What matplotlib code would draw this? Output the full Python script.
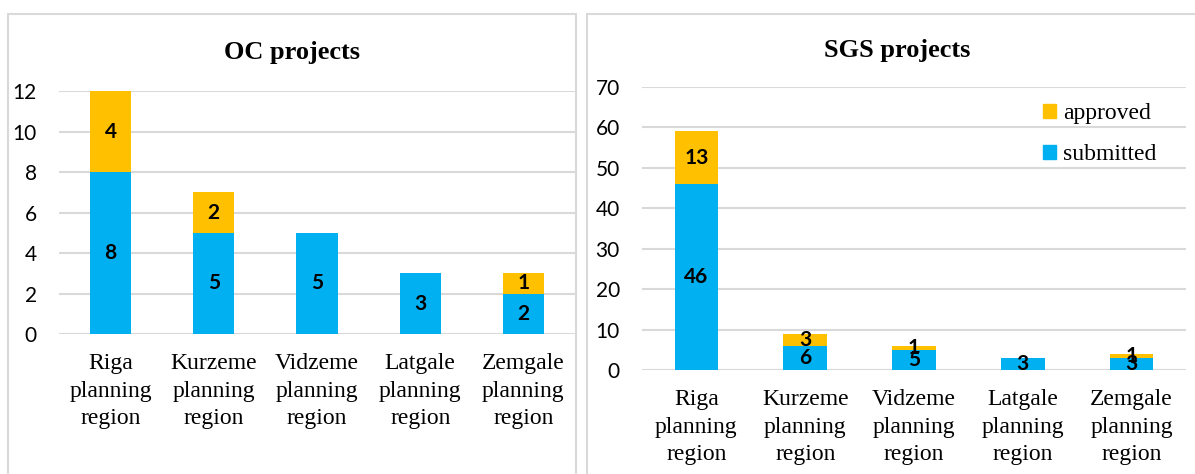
import matplotlib
matplotlib.use("Agg")
import matplotlib.pyplot as plt
from matplotlib.patches import Rectangle, Patch

regions = ["Riga\nplanning\nregion", "Kurzeme\nplanning\nregion",
           "Vidzeme\nplanning\nregion", "Latgale\nplanning\nregion",
           "Zemgale\nplanning\nregion"]

oc_submitted = [8, 5, 5, 3, 2]
oc_approved = [4, 2, 0, 0, 1]
sgs_submitted = [46, 6, 5, 3, 3]
sgs_approved = [13, 3, 1, 0, 1]

BLUE = "#00B0F0"
GOLD = "#FFC000"
GRID = "#D9D9D9"
SERIF = "Liberation Serif"
SANS = "Lato"

W, H = 1195, 474
fig = plt.figure(figsize=(W / 100, H / 100), dpi=100)


def px_box(x0, y_top, x1, y_bottom):
    # pixel box -> figure fraction [left, bottom, width, height]
    return [x0 / W, 1 - y_bottom / H, (x1 - x0) / W, (y_bottom - y_top) / H]


def stacked(ax, submitted, approved, ymax, step):
    x = range(len(regions))
    b1 = ax.bar(x, submitted, width=0.4, color=BLUE, zorder=3)
    b2 = ax.bar(x, approved, width=0.4, bottom=submitted, color=GOLD, zorder=3)
    for bars, vals, base in ((b1, submitted, [0] * len(submitted)),
                             (b2, approved, submitted)):
        for rect, v, b0 in zip(bars, vals, base):
            if v == 0:
                continue
            ax.text(rect.get_x() + rect.get_width() / 2, b0 + v / 2, str(v),
                    ha="center", va="center", fontsize=15, fontweight="bold",
                    family=SANS, zorder=4)
    ax.set_xlim(-0.5, len(regions) - 0.5)
    ax.set_ylim(0, ymax)
    ax.set_yticks(range(0, ymax + 1, step))
    ax.set_xticks(list(x))
    ax.set_xticklabels(regions, family=SERIF, fontsize=17, linespacing=1.4)
    for lbl in ax.get_yticklabels():
        lbl.set_family(SANS)
        lbl.set_fontsize(15)
    ax.tick_params(axis="both", length=0)
    ax.tick_params(axis="y", pad=16)
    ax.tick_params(axis="x", pad=14)
    ax.grid(axis="y", color=GRID, linewidth=1.5, zorder=0)
    for s in ax.spines.values():
        s.set_visible(False)
    ax.patch.set_alpha(0)


# panel frames
fig.patches.append(Rectangle((8 / W, -0.02), (576 - 8) / W, 1.02 - 14 / H,
                             transform=fig.transFigure, fill=False,
                             edgecolor=GRID, linewidth=1.5))
fig.patches.append(Rectangle((587 / W, -0.02), 0.6, 1.02 - 14 / H,
                             transform=fig.transFigure, fill=False,
                             edgecolor=GRID, linewidth=1.5))

ax1 = fig.add_axes(px_box(59, 91, 575, 334))
stacked(ax1, oc_submitted, oc_approved, 12, 2)
fig.text(292 / W, 1 - 52 / H, "OC projects", ha="center", va="center",
         family=SERIF, fontsize=19, fontweight="bold")

ax2 = fig.add_axes(px_box(642, 87, 1186, 370))
stacked(ax2, sgs_submitted, sgs_approved, 70, 10)
fig.text(897 / W, 1 - 50 / H, "SGS projects", ha="center", va="center",
         family=SERIF, fontsize=19, fontweight="bold")

handles = [Patch(color=GOLD, label="approved"), Patch(color=BLUE, label="submitted")]
ax2.legend(handles=handles, loc="upper left",
           bbox_to_anchor=(1043 / W, 1 - 103 / H), bbox_transform=fig.transFigure,
           frameon=False, borderpad=0, borderaxespad=0, handlelength=0.55,
           handleheight=0.55, handletextpad=0.3, labelspacing=0.85,
           prop={"family": SERIF, "size": 17})

fig.savefig("out.png", dpi=100)
